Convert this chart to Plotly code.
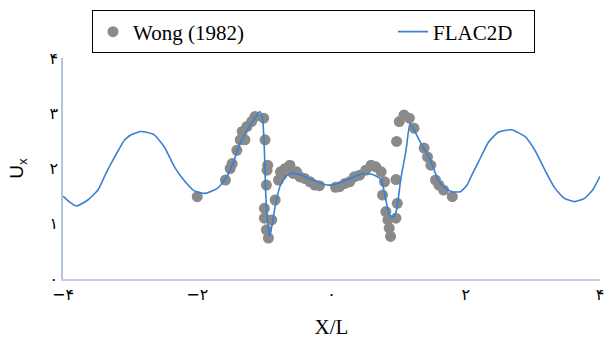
import plotly.graph_objects as go

# FLAC2D line
flac_x = [-4.0, -3.90, -3.80, -3.63, -3.48, -3.36, -3.23, -3.08, -2.97, -2.84, -2.74, -2.64,
          -2.49, -2.34, -2.20, -2.05, -1.88, -1.70, -1.56, -1.46, -1.36, -1.24, -1.14, -1.07,
          -1.03, -1.00, -0.98, -0.95, -0.92, -0.89, -0.84, -0.77, -0.69, -0.59, -0.45, -0.30,
          -0.15, -0.05, 0.10, 0.24, 0.39, 0.49, 0.64, 0.74, 0.81, 0.86, 0.92, 0.97, 1.03, 1.11,
          1.17, 1.23, 1.33, 1.45, 1.53, 1.60, 1.70, 1.80, 1.92, 2.02, 2.09, 2.19, 2.34, 2.49,
          2.68, 2.88, 3.03, 3.18, 3.33, 3.47, 3.62, 3.77, 3.89, 4.0]
flac_y = [1.50, 1.39, 1.32, 1.43, 1.61, 1.91, 2.21, 2.52, 2.62, 2.67, 2.65, 2.61,
          2.39, 2.03, 1.79, 1.60, 1.55, 1.64, 1.85, 2.12, 2.46, 2.73, 2.91, 3.03,
          2.94, 2.33, 1.55, 1.01, 0.77, 0.95, 1.31, 1.67, 1.85, 1.92, 1.88, 1.80,
          1.73, 1.70, 1.73, 1.80, 1.88, 1.91, 1.88, 1.80, 1.43, 1.16, 1.12, 1.25, 1.79, 2.33,
          2.82, 2.70, 2.46, 2.21, 1.97, 1.76, 1.64, 1.58, 1.58, 1.70, 1.88, 2.12, 2.48, 2.66,
          2.70, 2.58, 2.33, 1.97, 1.64, 1.46, 1.40, 1.46, 1.61, 1.86]

# Wong (1982) points
wong_x = [-2.00, -1.58, -1.51, -1.48, -1.41, -1.36, -1.33, -1.29, -1.26, -1.19, -1.14, -1.01,
          -0.99, -0.95, -0.96, -0.97, -1.00, -1.00, -0.97, -0.94, -0.89, -0.84, -0.79, -0.76,
          -0.74, -0.69, -0.62, -0.57, -0.52, -0.47, -0.40, -0.32, -0.25, -0.18,
          0.06, 0.12, 0.20, 0.27, 0.34, 0.42, 0.51, 0.59, 0.66, 0.74,
          0.79, 0.76, 0.81, 0.84, 0.86, 0.88, 0.96, 0.98, 0.96, 0.97, 1.01, 1.08, 1.16, 1.23,
          1.38, 1.43, 1.48, 1.55, 1.60, 1.67, 1.80]
wong_y = [1.49, 1.79, 2.00, 2.09, 2.33, 2.52, 2.67, 2.52, 2.76, 2.85, 2.94, 2.91,
          2.52, 2.06, 1.97, 1.70, 1.28, 1.10, 0.89, 0.74, 1.07, 1.43, 1.79, 1.94,
          1.88, 2.00, 2.06, 1.91, 1.94, 1.85, 1.82, 1.76, 1.70, 1.69,
          1.66, 1.67, 1.73, 1.76, 1.85, 1.88, 1.97, 2.06, 2.03, 1.94,
          1.76, 1.52, 1.22, 1.07, 0.92, 0.77, 1.10, 1.37, 1.80, 2.49, 2.85, 2.97, 2.91, 2.73,
          2.37, 2.21, 2.06, 1.79, 1.70, 1.61, 1.49]

x_tickvals = [-4, -2, 0, 2, 4]
x_ticktext = ["−۴", "−۲", "۰", "۲", "۴"]
y_tickvals = [0, 1, 2, 3, 4]
y_ticktext = ["۰", "۱", "۲", "۳", "۴"]

fig = go.Figure()
fig.add_trace(go.Scatter(
    x=wong_x, y=wong_y, mode="markers", name="Wong (1982)",
    marker=dict(color="#8a8a8a", size=11, line=dict(width=0)),
    legendwidth=255,
))
fig.add_trace(go.Scatter(
    x=flac_x, y=flac_y, mode="lines", name="FLAC2D",
    line=dict(color="#3a80d2", width=1.6, shape="spline", smoothing=0.5),
    legendwidth=96,
))

serif = "Liberation Serif, Times New Roman, serif"
fig.update_layout(
    width=605, height=341,
    margin=dict(l=63, r=1, t=58, b=62),
    paper_bgcolor="white", plot_bgcolor="white",
    showlegend=True,
    legend=dict(
        orientation="h", x=0.054, xanchor="left", y=1.215, yanchor="top",
        bordercolor="black", borderwidth=1, bgcolor="white",
        font=dict(family=serif, size=21, color="black"),
        itemwidth=30,
    ),
    xaxis=dict(
        range=[-4, 4], tickvals=x_tickvals, ticktext=x_ticktext,
        showgrid=False, zeroline=False, showline=True, linecolor="#c3cfe0", linewidth=1.5,
        ticks="", tickfont=dict(family="DejaVu Sans", size=16, color="black"),
        ticklabeloverflow="allow",
        title=dict(text="X/L", font=dict(family=serif, size=21, color="black"), standoff=16),
    ),
    yaxis=dict(
        range=[0, 4], tickvals=y_tickvals, ticktext=y_ticktext,
        showgrid=False, zeroline=False, showline=True, linecolor="#b4c4de", linewidth=1.5,
        ticks="", tickfont=dict(family="DejaVu Sans", size=16, color="black"),
        title=dict(text="U<sub>x</sub>", font=dict(family="Liberation Sans", size=19, color="black"), standoff=21),
    ),
)

fig.write_html("out.html")
